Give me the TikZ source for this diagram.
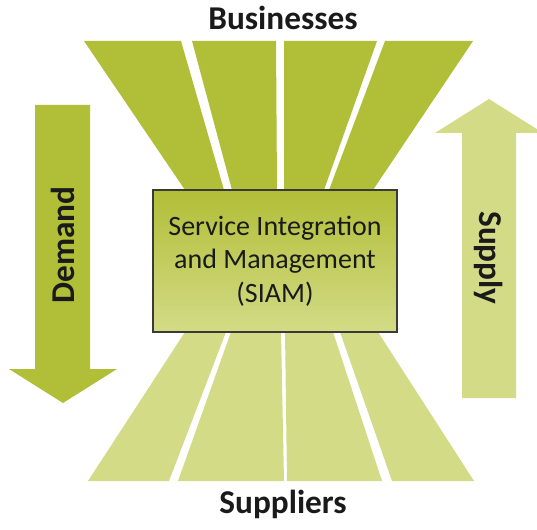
\documentclass[tikz,border=0pt]{standalone}
\usepackage{fontspec}
\setmainfont{Carlito}
\usepackage{tikz}
\definecolor{olive}{HTML}{B1BE37}
\definecolor{lightolive}{HTML}{D3DB86}
\definecolor{boxline}{HTML}{3A3A3A}
\definecolor{textdark}{HTML}{1A1A1A}
\tikzset{
  topband/.style={fill=olive},
  lowband/.style={fill=lightolive},
  siambox/.style={draw=boxline, line width=1.6pt, top color=olive, bottom color=lightolive,
    minimum width=244pt, minimum height=142pt, inner sep=0pt, align=center,
    text=textdark, font=\fontsize{28}{33.5}\selectfont},
  biglabel/.style={text=textdark, font=\fontsize{33.3}{38}\selectfont\bfseries, inner sep=0pt}
}
\begin{document}
\begin{tikzpicture}[x=1pt, y=-1pt]
\useasboundingbox (0,0) rectangle (537,529);
% drawing the upper funnel
\fill[topband] (84,41) -- (181,41) -- (224,190) -- (185,190) -- cycle;
\fill[topband] (192,41) -- (276,41) -- (277,190) -- (232,190) -- cycle;
\fill[topband] (284,41) -- (377,41) -- (324,190) -- (284,190) -- cycle;
\fill[topband] (385,41) -- (473,41) -- (373,190) -- (329,190) -- cycle;
% drawing the lower funnel
\fill[lowband] (185,332) -- (226,332) -- (169,481) -- (88,481) -- cycle;
\fill[lowband] (231,332) -- (281,332) -- (284,481) -- (178,481) -- cycle;
\fill[lowband] (285,332) -- (333,332) -- (382,481) -- (287,481) -- cycle;
\fill[lowband] (340,332) -- (378,332) -- (474,481) -- (392,481) -- cycle;
% the two arrows
\fill[olive] (35,105) -- (90,105) -- (90,369) -- (117,369) -- (63,403) -- (9,369) -- (35,369) -- cycle;
\fill[lightolive] (462,398) -- (516,398) -- (516,133) -- (543,133) -- (489,99) -- (435,133) -- (462,133) -- cycle;
% end of arrows
\node[siambox] (siam) at (275,261) {Service Integration\\and Management\\(SIAM)};
\node[biglabel] (businesses) at (283,18) {Businesses};
\node[biglabel] (suppliers) at (283,504) {Suppliers};
\node[biglabel, rotate=90] (demand) at (63,245) {Demand};
\node[biglabel, rotate=-90] (supply) at (489,258) {Supply};
\end{tikzpicture}
\end{document}
